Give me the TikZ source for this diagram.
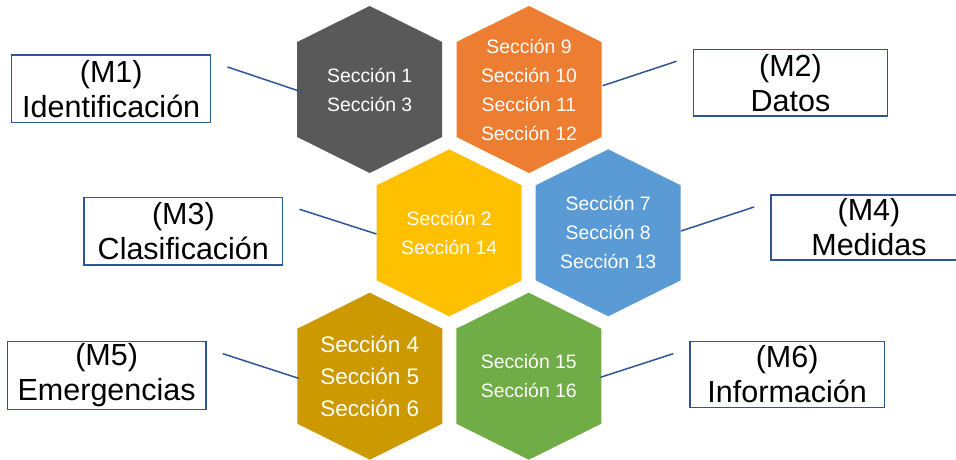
\documentclass[tikz,border=0pt]{standalone}
\usepackage{fontspec}
\setmainfont{Liberation Sans}
\usetikzlibrary{calc}
\definecolor{hgray}{HTML}{595959}
\definecolor{horange}{HTML}{ED7D31}
\definecolor{hyellow}{HTML}{FFC000}
\definecolor{hblue}{HTML}{5B9BD5}
\definecolor{hgold}{HTML}{CC9A00}
\definecolor{hgreen}{HTML}{70AD47}
\definecolor{lineblue}{HTML}{2F5597}
\tikzset{
  sec/.style={text=white, align=center, minimum width=145pt, minimum height=167pt, inner sep=0pt, font=\fontsize{19.4}{29}\selectfont},
  secbig/.style={sec, font=\fontsize{22.5}{32}\selectfont},
  mbox/.style={draw=lineblue, line width=1.5pt, align=center, inner sep=0pt, text=black, font=\fontsize{30.5}{35}\selectfont},
  conn/.style={draw=lineblue, line width=1.5pt},
}
\newcommand\hexfill[2]{\fill[#2] ($(#1)+(0,-83.5)$) -- ++(72.5,36) -- ++(0,95) -- ++(-72.5,36) -- ++(-72.5,-36) -- ++(0,-95) -- cycle;}
\begin{document}
\begin{tikzpicture}[x=1pt,y=-1pt]
\useasboundingbox (0,0) rectangle (956,459);
% hexagon centres
\coordinate (p1) at (369.7,89.5);
\coordinate (p2) at (529.0,89.5);
\coordinate (p3) at (449.2,232.8);
\coordinate (p4) at (608.2,232.8);
\coordinate (p5) at (369.8,376.2);
\coordinate (p6) at (528.8,376.2);
\hexfill{p1}{hgray}
\hexfill{p2}{horange}
\hexfill{p3}{hyellow}
\hexfill{p4}{hblue}
\hexfill{p5}{hgold}
\hexfill{p6}{hgreen}
\node[sec] (h1) at (p1) {Sección 1\\Sección 3};
\node[sec] (h2) at (p2) {Sección 9\\Sección 10\\Sección 11\\Sección 12};
\node[sec] (h3) at (p3) {Sección 2\\Sección 14};
\node[sec] (h4) at (p4) {Sección 7\\Sección 8\\Sección 13};
\node[secbig] (h5) at (p5) {Sección 4\\Sección 5\\Sección 6};
\node[sec] (h6) at (p6) {Sección 15\\Sección 16};
% label boxes
\node[mbox, minimum width=199pt, minimum height=67.7pt] (m1) at (111.2,88.85) {(M1)\\Identificación};
\node[mbox, minimum width=194.4pt, minimum height=66.7pt] (m2) at (790.5,82.65) {(M2)\\Datos};
\node[mbox, minimum width=198.7pt, minimum height=67.7pt] (m3) at (183.35,231.15) {(M3)\\Clasificación};
\node[mbox, minimum width=196pt, minimum height=65pt] (m4) at (869,227.5) {(M4)\\Medidas};
\node[mbox, minimum width=198.7pt, minimum height=67.6pt] (m5) at (106.65,375.5) {(M5)\\Emergencias};
\node[mbox, minimum width=194.3pt, minimum height=65.6pt] (m6) at (787.15,374.5) {(M6)\\Información};
% connectors
\draw[conn] ($(m1.north east)+(16,12.7)$) -- ($(h1.west)+(5,2.5)$);
\draw[conn] ($(m2.north west)+(-16,12.7)$) -- ($(h2.east)+(1,-3.8)$);
\draw[conn] ($(m3.north east)+(16,12.7)$) -- ($(h3.west)+(0,1.2)$);
\draw[conn] ($(m4.north west)+(-16,12.7)$) -- ($(h4.east)+(0,-1.8)$);
\draw[conn] ($(m5.north east)+(16,12.7)$) -- ($(h5.west)+(1.5,2.1)$);
\draw[conn] ($(m6.north west)+(-16,12.7)$) -- ($(h6.east)+(-1,1.1)$);
\end{tikzpicture}
\end{document}
